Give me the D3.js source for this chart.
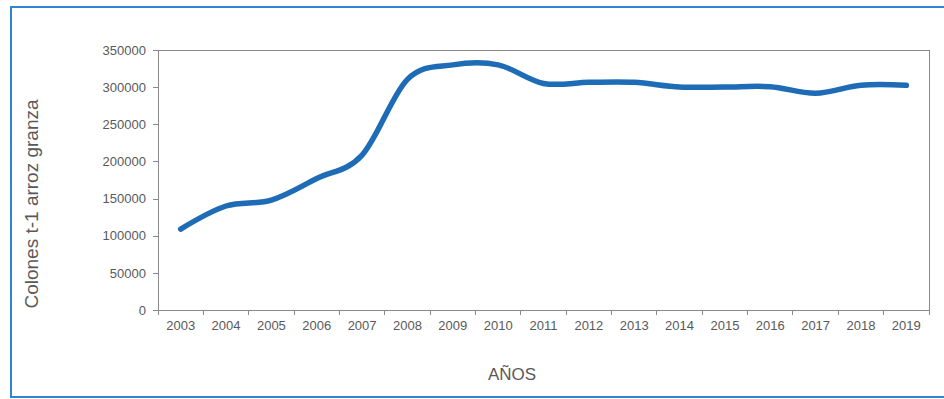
<!DOCTYPE html>
<html>
<head>
<meta charset="utf-8">
<script src="https://cdn.jsdelivr.net/npm/d3@7"></script>
<style>
  html, body { margin: 0; padding: 0; background: #fff; }
  svg { display: block; font-family: "Liberation Sans", Arial, sans-serif; }
</style>
</head>
<body>
<svg id="chart" width="944" height="399"></svg>
<script>
// Precio del arroz granza (colones por tonelada), 2003-2019
const years = ["2003","2004","2005","2006","2007","2008","2009","2010","2011",
               "2012","2013","2014","2015","2016","2017","2018","2019"];
const prices = [109000, 140000, 148000, 177000, 208500, 310500, 330000, 330000, 305000,
                306500, 306500, 300200, 300200, 300600, 291700, 302500, 302500];
const yTicks = [0, 50000, 100000, 150000, 200000, 250000, 300000, 350000];

const svg = d3.select("#chart");
const plot = { left: 158, right: 929, top: 50, bottom: 310 };

// outer frame
svg.append("rect")
  .attr("x", 11).attr("y", 7).attr("width", 950).attr("height", 390)
  .attr("fill", "none").attr("stroke", "#2e86d0").attr("stroke-width", 2);

const x = d3.scaleBand().domain(years).range([plot.left, plot.right]).padding(0);
const y = d3.scaleLinear().domain([0, 350000]).range([plot.bottom, plot.top]);

const axisColor = "#8a8a8a";
const textColor = "#595959";

// plot area border (top and right)
svg.append("path")
  .attr("d", `M${plot.left},${plot.top}H${plot.right}V${plot.bottom}`)
  .attr("fill", "none").attr("stroke", axisColor).attr("stroke-width", 1)
  .attr("shape-rendering", "crispEdges");

// y axis
const yAxis = svg.append("g")
  .attr("transform", `translate(${plot.left},0)`)
  .call(d3.axisLeft(y).tickValues(yTicks).tickSize(5).tickPadding(7).tickFormat(d3.format("d")));
yAxis.select(".domain").attr("stroke", axisColor).attr("shape-rendering", "crispEdges");
yAxis.selectAll(".tick line").attr("stroke", axisColor).attr("shape-rendering", "crispEdges");
yAxis.selectAll(".tick text").attr("fill", textColor).style("font-size", "13px")
  .style("font-family", "'Liberation Sans', Arial, sans-serif");

// x axis: ticks sit between the year categories
const xAxis = svg.append("g")
  .attr("transform", `translate(0,${plot.bottom})`)
  .call(d3.axisBottom(x).tickSize(0).tickPadding(11));
xAxis.select(".domain").attr("stroke", axisColor).attr("shape-rendering", "crispEdges");
xAxis.selectAll(".tick text").attr("fill", textColor).style("font-size", "13px")
  .style("font-family", "'Liberation Sans', Arial, sans-serif");
const edges = years.map(d => x(d)).concat([x(years[years.length - 1]) + x.bandwidth()]);
xAxis.selectAll("line.sep").data(edges).enter().append("line")
  .attr("class", "sep")
  .attr("x1", d => d).attr("x2", d => d)
  .attr("y1", 0).attr("y2", 5)
  .attr("stroke", axisColor).attr("shape-rendering", "crispEdges");

// smoothed price line
const line = d3.line()
  .x((d, i) => x(years[i]) + x.bandwidth() / 2)
  .y(d => y(d))
  .curve(d3.curveCardinal.tension(0));
svg.append("path")
  .datum(prices)
  .attr("d", line)
  .attr("fill", "none")
  .attr("stroke", "#1e6bb6")
  .attr("stroke-width", 5.5)
  .attr("stroke-linecap", "round")
  .attr("stroke-linejoin", "round");

// axis titles
svg.append("text")
  .attr("transform", "translate(38,204) rotate(-90)")
  .attr("text-anchor", "middle")
  .attr("fill", textColor)
  .style("font-size", "19px")
  .text("Colones t-1 arroz granza");

svg.append("text")
  .attr("x", 512).attr("y", 380)
  .attr("text-anchor", "middle")
  .attr("fill", textColor)
  .style("font-size", "17px")
  .text("AÑOS");
</script>
</body>
</html>
